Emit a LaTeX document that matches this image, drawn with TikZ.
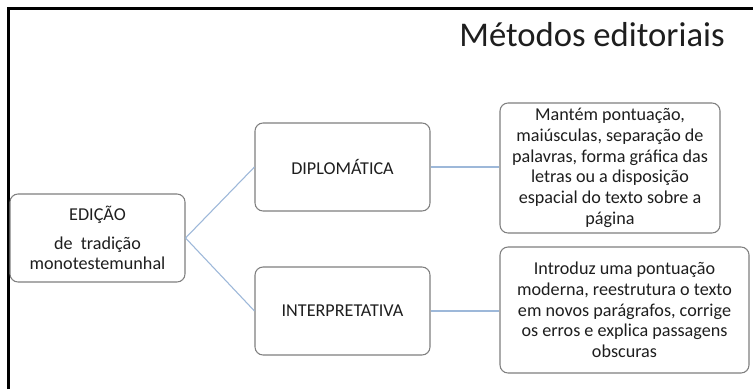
\documentclass[tikz,border=0pt]{standalone}
\usepackage{fontspec}
\setmainfont{Carlito}
\definecolor{linkblue}{HTML}{9DB8D9}
\definecolor{boxgray}{HTML}{7F7F7F}
\definecolor{txt}{HTML}{1E1E1E}
\begin{document}
\begin{tikzpicture}[x=0.75pt,y=-0.75pt,
  box/.style={draw=boxgray,line width=0.8pt,rounded corners=6pt,fill=white,
    align=center,text=txt,inner sep=2pt,
    font=\fontsize{13.6}{15.5}\selectfont},
  link/.style={draw=linkblue,line width=0.8pt}]
\useasboundingbox (0,0) rectangle (753,389);
\fill[white] (0,0) rectangle (753,389);
\draw[line width=1.6pt,black] (8.5,389) -- (8.5,8.5) -- (753,8.5);
\node[text=txt,font=\fontsize{26}{31}\selectfont,anchor=center] (title) at (592,35) {Métodos editoriais};
\node[box,minimum width=131.25pt,minimum height=66pt] (ed) at (97.5,238)
  {EDIÇÃO\\[6pt] de\ \ tradição\\ monotestemunhal};
\node[box,minimum width=131.25pt,minimum height=66pt] (dip) at (342.5,167) {DIPLOMÁTICA};
\node[box,minimum width=131.25pt,minimum height=66pt] (int) at (342.5,311) {INTERPRETATIVA};
\node[box,minimum width=165pt,minimum height=97.5pt] (d1) at (610,168)
  {Mantém pontuação,\\ maiúsculas, separação de\\ palavras, forma gráfica das\\ letras ou a disposição\\ espacial do texto sobre a\\ página};
\node[box,minimum width=186.75pt,minimum height=94.5pt] (i1) at (624.5,310)
  {Introduz uma pontuação\\ moderna, reestrutura o texto\\ em novos parágrafos, corrige\\ os erros e explica passagens\\ obscuras};
\draw[link] (ed.east) -- (dip.west);
\draw[link] (ed.east) -- (int.west);
\draw[link] (dip.east) -- (dip.east -| d1.west);
\draw[link] (int.east) -- (int.east -| i1.west);
\end{tikzpicture}
\end{document}
